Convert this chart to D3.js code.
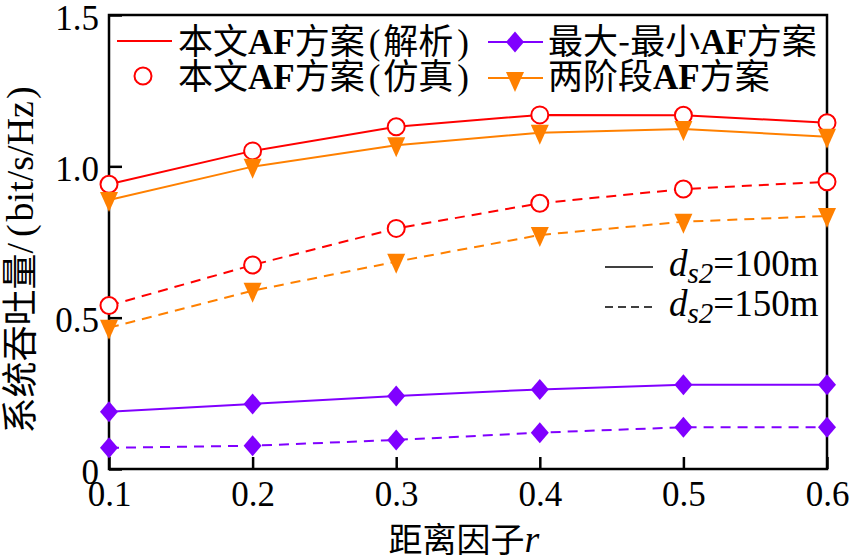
<!DOCTYPE html>
<html>
<head>
<meta charset="utf-8">
<script src="https://cdn.jsdelivr.net/npm/d3@7"></script>
<style>
  html, body { margin: 0; padding: 0; background: #fff; }
  svg { display: block; }
</style>
</head>
<body>
<svg id="chart" width="850" height="560"></svg>
<script>
// ---------- data ----------
const rValues = [0.1, 0.2, 0.3, 0.4, 0.5, 0.6];
const xTicks = [0.1, 0.2, 0.3, 0.4, 0.5, 0.6];
const yTicks = [0, 0.5, 1.0, 1.5];
const yTickLabels = ["0", "0.5", "1.0", "1.5"];

// d_s2 = 100 m
const propAnalytic100 = [0.941, 1.051, 1.131, 1.170, 1.169, 1.144];
const propSim100      = [0.941, 1.051, 1.131, 1.170, 1.169, 1.144];
const maxMin100       = [0.189, 0.215, 0.241, 0.263, 0.278, 0.278];
const twoStage100     = [0.889, 0.999, 1.070, 1.111, 1.123, 1.098];
// d_s2 = 150 m
const propAnalytic150 = [0.540, 0.674, 0.795, 0.878, 0.925, 0.949];
const propSim150      = [0.540, 0.674, 0.795, 0.878, 0.925, 0.949];
const maxMin150       = [0.070, 0.077, 0.096, 0.120, 0.138, 0.138];
const twoStage150     = [0.467, 0.589, 0.685, 0.773, 0.817, 0.836];

const legendLabels = ["本文AF方案(解析)", "本文AF方案(仿真)", "最大-最小AF方案", "两阶段AF方案"];

// ---------- layout ----------
const RED = "#ff0000", ORANGE = "#ff8000", PURPLE = "#8000ff";
const SERIF = "'Liberation Serif','Times New Roman',serif";
const CJK = "'Noto Sans CJK SC','Liberation Serif',serif";
const L = 109, R = 827, T = 15, B = 469;

const svg = d3.select("#chart");
const x = d3.scaleLinear().domain([0.1, 0.6]).range([L, R]);
const y = d3.scaleLinear().domain([0, 1.5]).range([B, T]);

// axes
const xAxis = d3.axisBottom(x).tickValues(xTicks).tickFormat(d3.format(".1f"))
  .tickSizeInner(-12).tickSizeOuter(0).tickPadding(12);
const yAxis = d3.axisLeft(y).tickValues(yTicks).tickFormat((d, i) => yTickLabels[i])
  .tickSizeInner(-13).tickSizeOuter(0).tickPadding(10);

const gx = svg.append("g").attr("transform", `translate(0,${B})`).call(xAxis);
const gy = svg.append("g").attr("transform", `translate(${L},0)`).call(yAxis);
[gx, gy].forEach(g => {
  g.select(".domain").remove();
  g.selectAll(".tick line").attr("stroke", "#000").attr("stroke-width", 2.5);
  g.selectAll(".tick text").attr("fill", "#000")
    .style("font-family", SERIF).style("font-size", "35px");
});
gx.selectAll(".tick text").attr("dy", "0.72em");
gy.selectAll(".tick text").attr("dy", "0.4em");

// frame
svg.append("rect").attr("x", L).attr("y", T).attr("width", R - L).attr("height", B - T)
  .attr("fill", "none").attr("stroke", "#000").attr("stroke-width", 2.5);

// ---------- marks ----------
const line = d3.line().x((d, i) => x(rValues[i])).y(d => y(d));
const diamond = "M0,-10.5L9,0L0,10.5L-9,0Z";
const triDown = "M-9,-8L9,-8L0,12Z";

function drawLine(vals, color, dashed) {
  svg.append("path").datum(vals).attr("d", line)
    .attr("fill", "none").attr("stroke", color).attr("stroke-width", 2)
    .attr("stroke-dasharray", dashed ? "10,7" : null);
}
function drawMarkers(vals, kind, color) {
  const g = svg.append("g");
  vals.forEach((v, i) => {
    const cx = x(rValues[i]), cy = y(v);
    if (kind === "circle") {
      g.append("circle").attr("cx", cx).attr("cy", cy).attr("r", 8.5)
        .attr("fill", "#fff").attr("stroke", color).attr("stroke-width", 2);
    } else {
      g.append("path").attr("d", kind === "diamond" ? diamond : triDown)
        .attr("transform", `translate(${cx},${cy})`).attr("fill", color);
    }
  });
}

drawLine(propAnalytic100, RED, false);
drawLine(propAnalytic150, RED, true);
drawMarkers(propSim100, "circle", RED);
drawMarkers(propSim150, "circle", RED);
drawLine(maxMin100, PURPLE, false);
drawLine(maxMin150, PURPLE, true);
drawMarkers(maxMin100, "diamond", PURPLE);
drawMarkers(maxMin150, "diamond", PURPLE);
drawLine(twoStage100, ORANGE, false);
drawLine(twoStage150, ORANGE, true);
drawMarkers(twoStage100, "tri", ORANGE);
drawMarkers(twoStage150, "tri", ORANGE);

// ---------- legend (series) ----------
function legendText(xp, yp, label) {
  const t = svg.append("text").attr("x", xp).attr("y", yp)
    .style("font-size", "35px").attr("fill", "#000");
  // split into CJK / "AF" / parens pieces
  const parts = label.match(/AF|[()]|[^()A-Z]+/g);
  parts.forEach(p => {
    const s = t.append("tspan").text(p);
    if (p === "AF") {
      s.style("font-family", SERIF).style("font-weight", "bold");
    } else if (p === "(" || p === ")") {
      s.style("font-family", SERIF).attr("dx", 4);
    } else {
      s.style("font-family", CJK);
      if (/^[解仿]/.test(p)) s.attr("dx", 3);
    }
  });
}
// row 1 col 1 : analytic line
svg.append("line").attr("x1", 117).attr("x2", 172).attr("y1", 41).attr("y2", 41)
  .attr("stroke", RED).attr("stroke-width", 2);
legendText(178, 54, legendLabels[0]);
// row 2 col 1 : simulation circle
svg.append("circle").attr("cx", 143).attr("cy", 76).attr("r", 8.5)
  .attr("fill", "#fff").attr("stroke", RED).attr("stroke-width", 2);
legendText(178, 89, legendLabels[1]);
// row 1 col 2 : max-min
svg.append("line").attr("x1", 488).attr("x2", 543).attr("y1", 42).attr("y2", 42)
  .attr("stroke", PURPLE).attr("stroke-width", 2);
svg.append("path").attr("d", diamond).attr("transform", "translate(515,42)").attr("fill", PURPLE);
legendText(548, 54, legendLabels[2]);
// row 2 col 2 : two-stage
svg.append("line").attr("x1", 488).attr("x2", 543).attr("y1", 78).attr("y2", 78)
  .attr("stroke", ORANGE).attr("stroke-width", 2);
svg.append("path").attr("d", triDown).attr("transform", "translate(515,80)").attr("fill", ORANGE);
legendText(548, 89, legendLabels[3]);

// ---------- legend (line style) ----------
function styleEntry(yl, yb, dashed, val) {
  svg.append("line").attr("x1", 605).attr("x2", 653).attr("y1", yl).attr("y2", yl)
    .attr("stroke", "#000").attr("stroke-width", 1.5)
    .attr("stroke-dasharray", dashed ? "8,5" : null);
  const t = svg.append("text").attr("x", 669).attr("y", yb)
    .style("font-family", SERIF).style("font-size", "37px").attr("fill", "#000");
  t.append("tspan").style("font-style", "italic").text("d");
  t.append("tspan").style("font-style", "italic").style("font-size", "29px").attr("dy", 7).text("s2");
  t.append("tspan").attr("dy", -7).text("=" + val + "m");
}
styleEntry(267, 276, false, "100");
styleEntry(307, 316, true, "150");

// ---------- axis titles ----------
const xt = svg.append("text").attr("x", 464).attr("y", 552).attr("text-anchor", "middle")
  .attr("fill", "#000");
xt.append("tspan").style("font-family", CJK).style("font-size", "34px").text("距离因子");
xt.append("tspan").style("font-family", SERIF).style("font-style", "italic").style("font-size", "38px").text("r");

const yt = svg.append("text").attr("transform", "translate(33,260) rotate(-90)")
  .attr("text-anchor", "middle").attr("fill", "#000");
yt.append("tspan").style("font-family", CJK).style("font-size", "36px").text("系统吞吐量");
yt.append("tspan").style("font-family", SERIF).style("font-size", "38px").text("/");
yt.append("tspan").style("font-family", SERIF).style("font-size", "38px").attr("dx", 6).text("(");
yt.append("tspan").style("font-family", SERIF).style("font-size", "38px").attr("dx", 3).text("bit/s/Hz");
yt.append("tspan").style("font-family", SERIF).style("font-size", "38px").attr("dx", 2).text(")");
</script>
</body>
</html>
